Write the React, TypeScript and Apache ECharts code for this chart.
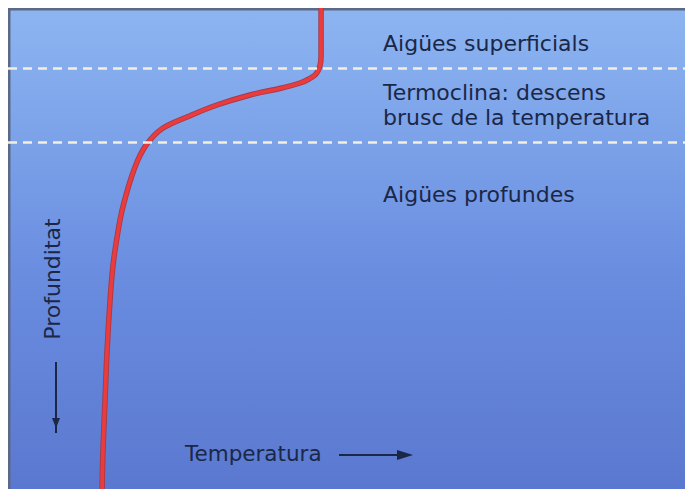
import React, { useEffect, useRef } from "react";
import * as echarts from "echarts";

// Temperature profile (temperature on an arbitrary 0-30 scale, depth 0-200)
const temperature = [13.71, 13.71, 13.66, 13.49, 13.18, 12.79, 11.99, 10.6, 9.15, 7.84, 6.79, 6.22, 5.91, 5.65, 5.39, 5.17, 4.95, 4.77, 4.6, 4.47, 4.34, 4.25, 4.16, 4.12];
const depth = [0, 19.96, 24.12, 27.44, 29.52, 31.19, 33.26, 36.17, 40.33, 45.32, 49.9, 54.89, 59.04, 64.03, 70.69, 77.75, 86.07, 95.63, 106.86, 121.41, 142.2, 162.99, 183.78, 200];
const layerBounds = [25, 56];
const zoneLabels = ["Aigües superficials", "Termoclina: descens\nbrusc de la temperatura", "Aigües profundes"];
const xLabel = "Temperatura";
const yLabel = "Profunditat";

export default function App() {
  const ref = useRef<HTMLDivElement>(null);
  useEffect(() => {
    if (!ref.current) return;
    const chart = echarts.init(ref.current, null, { renderer: "svg" });
    const data = temperature.map((t, i) => [t, depth[i]]);
    const font = "DejaVu Sans";
    const textColor = "#1b2747";
    chart.setOption({
      animation: false,
      grid: { left: 0, right: 0, top: 0, bottom: 0 },
      xAxis: { type: "value", min: 0, max: 30, show: false },
      yAxis: { type: "value", min: 0, max: 200, inverse: true, show: false },
      series: [
        {
          type: "line",
          data,
          smooth: 0.4,
          symbol: "none",
          z: 3,
          lineStyle: { color: "#a23a4c", width: 5.5 },
          markLine: {
            silent: true,
            symbol: "none",
            label: { show: false },
            lineStyle: { color: "#f3efdc", width: 2.5, type: [9, 6], opacity: 1 },
            data: layerBounds.map((v) => ({ yAxis: v })),
          },
        },
        {
          type: "line",
          data,
          smooth: 0.4,
          symbol: "none",
          z: 4,
          lineStyle: { color: "#ea3b3d", width: 3.8 },
        },
      ],
      graphic: [
        { type: "line", shape: { x1: 1, y1: 0, x2: 1, y2: 481 }, style: { stroke: "#5d6888", lineWidth: 3 } },
        { type: "line", shape: { x1: 0, y1: 1, x2: 685, y2: 1 }, style: { stroke: "#5d6888", lineWidth: 3 } },
        { type: "text", x: 375, y: 35, style: { text: zoneLabels[0], font: `22px '${font}'`, fill: textColor, textVerticalAlign: "middle" } },
        { type: "text", x: 375, y: 72, style: { text: zoneLabels[1], font: `22px '${font}'`, fill: textColor, lineHeight: 25, textVerticalAlign: "top" } },
        { type: "text", x: 375, y: 186, style: { text: zoneLabels[2], font: `22px '${font}'`, fill: textColor, textVerticalAlign: "middle" } },
        { type: "text", x: 177, y: 445, style: { text: xLabel, font: `21.5px '${font}'`, fill: textColor, textVerticalAlign: "middle" } },
        { type: "line", shape: { x1: 331, y1: 447, x2: 394, y2: 447 }, style: { stroke: textColor, lineWidth: 2 } },
        { type: "polygon", shape: { points: [[389, 442], [405, 447], [389, 452]] }, style: { fill: textColor } },
        { type: "text", x: 44, y: 271, rotation: Math.PI / 2, style: { text: yLabel, font: `22px '${font}'`, fill: textColor, textAlign: "center", textVerticalAlign: "middle" } },
        { type: "line", shape: { x1: 48, y1: 354, x2: 48, y2: 425 }, style: { stroke: textColor, lineWidth: 2 } },
        { type: "polygon", shape: { points: [[44, 410], [48, 420], [52, 410]] }, style: { fill: textColor } },
      ],
    });
    return () => chart.dispose();
  }, []);
  return (
    <div
      ref={ref}
      style={{
        width: 685,
        height: 481,
        background: "linear-gradient(to bottom, #8db5f1 0%, #7aa0e8 30%, #6a8de0 55%, #5a78cf 100%)",
      }}
    />
  );
}
